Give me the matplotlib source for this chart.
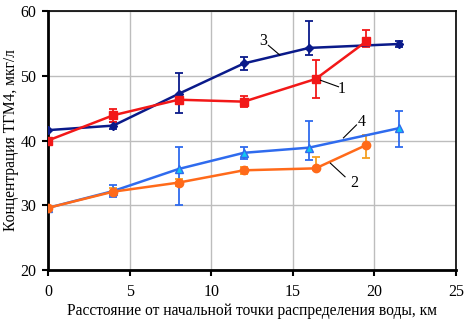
import numpy as np
import matplotlib.pyplot as plt

plt.rcParams['font.family'] = ['Liberation Serif', 'DejaVu Serif']

# ------------------------------------------------------------
# Data
# ------------------------------------------------------------

# 1 - red squares
x1 = [0, 4, 8, 12, 16.4, 19.5]
y1 = [40.0, 43.9, 46.3, 46.0, 49.5, 55.3]
e1_lo = [0, 1.1, 0.7, 0.8, 3.0, 0.9]
e1_hi = [0, 1.0, 0.7, 0.8, 2.9, 1.7]

# 2 - orange circles
x2 = [0, 4, 8, 12, 16.4, 19.5]
y2 = [29.6, 32.1, 33.5, 35.4, 35.7, 39.3]
e2_lo = [0, 0.5, 0.6, 0.5, 0.3, 2.0]
e2_hi = [0, 0.5, 0.6, 0.5, 1.8, 1.6]

# 3 - navy diamonds
x3 = [0, 4, 8, 12, 16, 21.5]
y3 = [41.6, 42.3, 47.2, 51.9, 54.3, 54.9]
e3_lo = [0, 0.5, 2.9, 1.0, 1.1, 0.4]
e3_hi = [0, 0.5, 3.2, 1.0, 4.2, 0.4]

# 4 - blue triangles
x4 = [0, 4, 8, 12, 16, 21.5]
y4 = [29.6, 32.2, 35.6, 38.1, 38.9, 41.9]
e4_lo = [0, 0.9, 5.5, 0.9, 1.9, 2.9]
e4_hi = [0, 1.0, 3.4, 0.9, 4.1, 2.6]

# curve labels: (text, text_xy, line_start, line_end)
labels = [
    ("3", (13.2, 55.4), (14.2, 53.2), (13.5, 54.7)),
    ("1", (18.0, 48.0), (16.7, 49.3), (17.8, 48.3)),
    ("4", (19.25, 42.8), (18.1, 40.4), (18.9, 42.4)),
    ("2", (18.75, 33.5), (17.3, 36.5), (18.2, 34.4)),
]

# ------------------------------------------------------------
# Plot
# ------------------------------------------------------------

fig = plt.figure(figsize=(4.68, 3.23), dpi=100)
ax = fig.add_axes([0.1026, 0.164, 0.8718, 0.802])

ax.errorbar(x3, y3, yerr=[e3_lo, e3_hi], color="#0A1A8A", lw=1.8,
            marker="D", ms=4.5, capsize=3, elinewidth=1.3, capthick=1.3, zorder=3)
ax.errorbar(x1, y1, yerr=[e1_lo, e1_hi], color="#F21818", lw=1.8,
            marker="s", ms=5.5, capsize=3, elinewidth=1.3, capthick=1.3, zorder=3)
ax.errorbar(x4, y4, yerr=[e4_lo, e4_hi], color="#2F6BEE", lw=1.8,
            marker="^", ms=5.5, mfc="#10C8F0", mec="#2F6BEE",
            capsize=3, elinewidth=1.3, capthick=1.3, zorder=3)
ax.errorbar(x2, y2, yerr=[e2_lo, e2_hi], color="#FF6A1A", lw=1.8,
            marker="o", ms=6, ecolor="#F5A020",
            capsize=3, elinewidth=1.3, capthick=1.3, zorder=3)

for txt, pos, p0, p1 in labels:
    ax.plot([p0[0], p1[0]], [p0[1], p1[1]], color="black", lw=0.8, zorder=4)
    ax.text(pos[0], pos[1], txt, fontsize=11.5, ha="center", va="center")

ax.set_xlim(0, 25)
ax.set_ylim(20, 60)
ax.set_xticks([0, 5, 10, 15, 20, 25])
ax.set_yticks([20, 30, 40, 50, 60])
ax.tick_params(labelsize=11.5, direction="out", length=4.3, width=1.5)
ax.tick_params(axis="x", pad=6)
ax.tick_params(axis="y", pad=4)
ax.grid(True, color="#BDBDBD", lw=1.0)
ax.set_axisbelow(True)

for side in ["left", "bottom"]:
    ax.spines[side].set_linewidth(2)
for side in ["top", "right"]:
    ax.spines[side].set_linewidth(1.2)

ax.set_xlabel("Расстояние от начальной точки распределения воды, км", fontsize=11.2, labelpad=2)
ax.set_ylabel("Концентрация ТГМ4, мкг/л", fontsize=11.2, labelpad=1)

fig.savefig("out.png", dpi=100)
